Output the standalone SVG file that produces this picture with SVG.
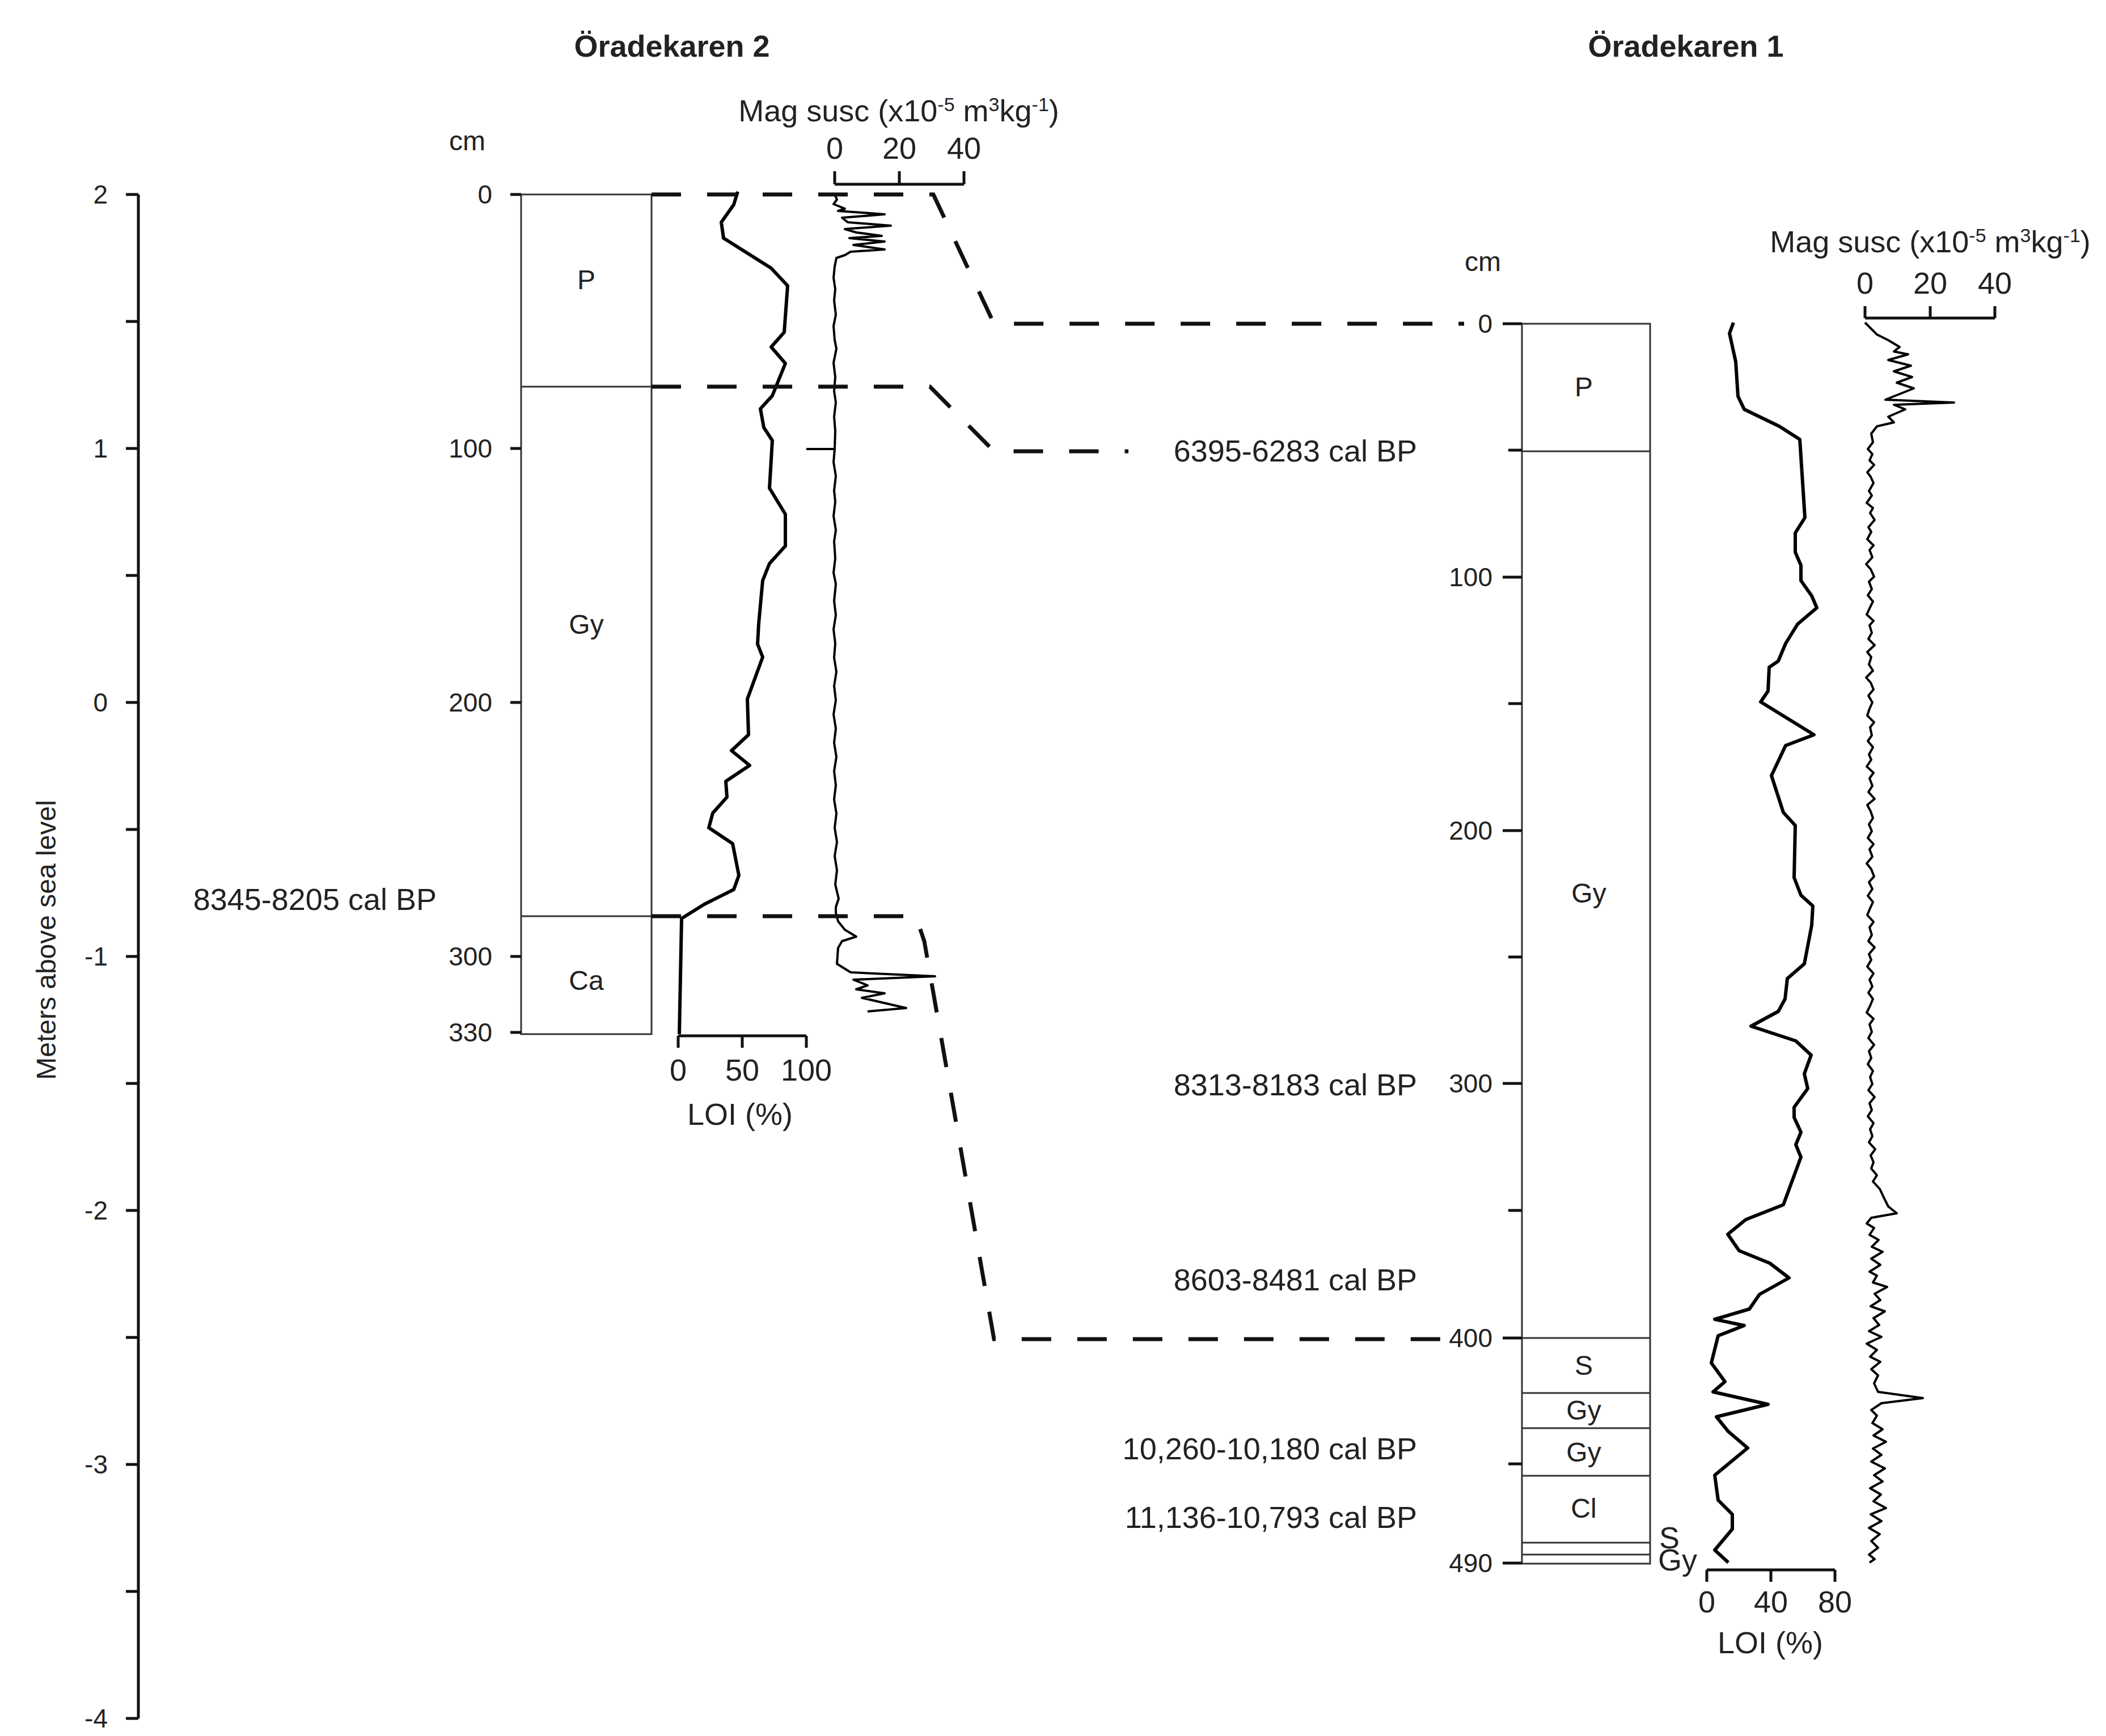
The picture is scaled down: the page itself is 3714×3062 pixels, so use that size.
<svg xmlns="http://www.w3.org/2000/svg" width="3714" height="3062" viewBox="0 0 3714 3062">
<style>
text{font-family:"Liberation Sans",Arial,sans-serif;fill:#222;font-size:54px}
.t{font-weight:bold;font-size:54px;text-anchor:middle}
.r{text-anchor:end}
.m{text-anchor:middle}
.n{font-size:46px}
.c{font-size:48px}
.ax{stroke:#111;stroke-width:5;fill:none}
.box{stroke:#333;stroke-width:3;fill:none}
.cv{stroke:#000;stroke-width:6;fill:none;stroke-linejoin:round}
.mg{stroke:#000;stroke-width:4;fill:none;stroke-linejoin:round}
.dash{stroke:#111;stroke-width:7;fill:none;stroke-dasharray:52 46}
</style>
<rect width="3714" height="3062" fill="#fff"/>
<text class="t" x="1185" y="100">Öradekaren 2</text>
<text class="t" x="2973" y="100">Öradekaren 1</text>

<g id="elevation-axis">
<path class="ax" d="M244,343V3031M222,343H244M222,567H244M222,791H244M222,1015H244M222,1239H244M222,1463H244M222,1687H244M222,1911H244M222,2135H244M222,2359H244M222,2583H244M222,2807H244M222,3031H244"/>
<text class="r n" x="190" y="359">2</text>
<text class="r n" x="190" y="807">1</text>
<text class="r n" x="190" y="1255">0</text>
<text class="r n" x="190" y="1703">-1</text>
<text class="r n" x="190" y="2151">-2</text>
<text class="r n" x="190" y="2599">-3</text>
<text class="r n" x="190" y="3047">-4</text>
<text class="m c" transform="translate(98,1658) rotate(-90)">Meters above sea level</text>
</g>

<g id="core2">
<rect class="box" x="919" y="343" width="230" height="1481"/>
<path class="box" d="M919,682H1149M919,1616H1149"/>
<path class="ax" stroke-width="4" d="M900,343H919M900,791H919M900,1239H919M900,1687H919M900,1821H919"/>
<text x="824" y="265" class="m c">cm</text>
<text class="r n" x="868" y="359">0</text>
<text class="r n" x="868" y="807">100</text>
<text class="r n" x="868" y="1255">200</text>
<text class="r n" x="868" y="1703">300</text>
<text class="r n" x="868" y="1837">330</text>
<text class="m c" x="1034" y="510">P</text>
<text class="m c" x="1034" y="1118">Gy</text>
<text class="m c" x="1034" y="1746">Ca</text>
</g>

<g id="core2-loi">
<polyline class="cv" points="1301,338 1294,361 1272,392 1276,420 1360,473 1389,504 1383,586 1360,612 1385,641 1362,698 1341,721 1347,754 1362,777 1357,861 1385,907 1385,963 1357,994 1345,1024 1338,1100 1336,1136 1345,1159 1318,1233 1320,1296 1290,1324 1322,1350 1280,1378 1282,1406 1257,1434 1250,1460 1292,1488 1303,1544 1294,1569 1242,1595 1202,1620 1198,1824"/>
<path class="ax" d="M1196,1827H1422M1196,1827V1848M1309,1827V1848M1422,1827V1848"/>
<text class="m" x="1196" y="1906">0</text>
<text class="m" x="1309" y="1906">50</text>
<text class="m" x="1422" y="1906">100</text>
<text class="m" x="1305" y="1984">LOI (%)</text>
</g>

<g id="core2-magsusc">
<path class="ax" d="M1472,325H1700M1472,325V302M1586,325V302M1700,325V302"/>
<text class="m" x="1472" y="280">0</text>
<text class="m" x="1586" y="280">20</text>
<text class="m" x="1700" y="280">40</text>
<text class="m" x="1585" y="214">Mag susc (x10<tspan font-size="34" dy="-18">-5</tspan><tspan dy="18"> m</tspan><tspan font-size="34" dy="-18">3</tspan><tspan dy="18">kg</tspan><tspan font-size="34" dy="-18">-1</tspan><tspan dy="18">)</tspan></text>
<polyline class="mg" points="1472,343 1476,352 1470,360 1490,368 1478,372 1560,378 1485,384 1495,392 1571,398 1490,404 1510,410 1555,416 1498,420 1560,426 1505,432 1560,440 1500,444 1490,450 1475,455 1472,470 1470,490 1473,510 1471,530 1474,555 1470,575 1472,600 1475,615 1470,640 1473,665 1471,690 1474,710 1471,735 1473,760 1472,792 1470,815 1474,840 1471,865 1473,885 1470,910 1474,935 1471,955 1473,985 1470,1010 1474,1030 1471,1060 1474,1085 1470,1110 1473,1135 1471,1160 1475,1185 1471,1210 1474,1235 1470,1260 1474,1285 1471,1310 1475,1335 1471,1360 1474,1385 1471,1410 1475,1435 1472,1460 1476,1485 1472,1510 1476,1535 1473,1560 1479,1585 1474,1600 1474,1610 1478,1625 1490,1640 1510,1652 1485,1660 1478,1672 1476,1700 1500,1715 1649,1722 1505,1728 1530,1738 1510,1745 1560,1752 1520,1760 1598,1778 1530,1784"/>
<line class="mg" x1="1422" y1="792" x2="1472" y2="792"/>
</g>

<g id="core1">
<rect class="box" x="2684" y="571" width="226" height="2187"/>
<path class="box" d="M2684,796H2910M2684,2360H2910M2684,2457H2910M2684,2603H2910M2684,2721H2910M2684,2742H2910"/>
<path class="box" stroke-width="5" d="M2684,2519H2910"/>
<path class="ax" stroke-width="4" d="M2650,571H2684M2660,794H2684M2650,1018H2684M2660,1241H2684M2650,1465H2684M2660,1688H2684M2650,1911H2684M2660,2135H2684M2650,2360H2684M2660,2582H2684M2650,2757H2684"/>
<text x="2615" y="478" class="m c">cm</text>
<text class="r n" x="2632" y="587">0</text>
<text class="r n" x="2632" y="1034">100</text>
<text class="r n" x="2632" y="1481">200</text>
<text class="r n" x="2632" y="1927">300</text>
<text class="r n" x="2632" y="2376">400</text>
<text class="r n" x="2632" y="2773">490</text>
<text class="m c" x="2793" y="699">P</text>
<text class="m c" x="2802" y="1592">Gy</text>
<text class="m c" x="2793" y="2425">S</text>
<text class="m c" x="2793" y="2504">Gy</text>
<text class="m c" x="2793" y="2578">Gy</text>
<text class="m c" x="2793" y="2677">Cl</text>
<text x="2926" y="2731" font-size="32">S</text>
<text x="2924" y="2770" font-size="32">Gy</text>
</g>

<g id="core1-loi">
<polyline class="cv" points="3057,569 3050,588 3061,638 3065,699 3076,722 3138,752 3174,775 3180,867 3183,913 3166,940 3166,974 3176,997 3176,1024 3195,1051 3204,1072 3170,1101 3149,1135 3136,1166 3120,1177 3118,1219 3105,1238 3199,1296 3149,1315 3124,1368 3145,1433 3166,1456 3164,1548 3176,1579 3197,1598 3195,1632 3182,1700 3152,1726 3148,1762 3136,1784 3088,1810 3167,1836 3194,1861 3182,1894 3188,1920 3164,1953 3164,1971 3176,1997 3167,2019 3176,2041 3145,2125 3079,2151 3047,2177 3067,2206 3121,2228 3155,2254 3103,2283 3085,2309 3024,2327 3076,2338 3030,2356 3018,2404 3042,2437 3021,2455 3118,2477 3027,2499 3048,2525 3082,2554 3024,2602 3030,2646 3055,2671 3055,2697 3024,2734 3048,2756"/>
<path class="ax" d="M3010,2769H3236M3010,2769V2790M3123,2769V2790M3236,2769V2790"/>
<text class="m" x="3010" y="2844">0</text>
<text class="m" x="3123" y="2844">40</text>
<text class="m" x="3236" y="2844">80</text>
<text class="m" x="3122" y="2916">LOI (%)</text>
</g>

<g id="core1-magsusc">
<path class="ax" d="M3289,561H3518M3289,561V540M3404,561V540M3518,561V540"/>
<text class="m" x="3289" y="518">0</text>
<text class="m" x="3404" y="518">20</text>
<text class="m" x="3518" y="518">40</text>
<text class="m" x="3404" y="445">Mag susc (x10<tspan font-size="34" dy="-18">-5</tspan><tspan dy="18"> m</tspan><tspan font-size="34" dy="-18">3</tspan><tspan dy="18">kg</tspan><tspan font-size="34" dy="-18">-1</tspan><tspan dy="18">)</tspan></text>
<polyline class="mg" points="3289,569 3300,580 3310,590 3330,600 3350,612 3340,620 3365,625 3330,635 3370,645 3340,655 3372,665 3345,675 3375,685 3325,705 3446,710 3340,714 3360,722 3330,735 3340,745 3310,752 3300,765 3303,780 3294,792 3302,801 3297,812 3305,820 3293,833 3299,841 3304,852 3296,866 3301,874 3292,887 3303,896 3298,905 3306,917 3295,930 3300,938 3293,951 3304,962 3297,970 3302,983 3291,995 3299,1004 3305,1017 3296,1026 3301,1039 3294,1050 3303,1061 3298,1071 3292,1084 3304,1095 3297,1103 3301,1116 3295,1127 3306,1138 3293,1150 3300,1159 3296,1172 3303,1183 3291,1195 3299,1204 3304,1216 3295,1227 3302,1239 3297,1250 3293,1262 3305,1274 3298,1283 3301,1297 3294,1307 3303,1318 3296,1331 3300,1340 3292,1352 3304,1363 3297,1373 3302,1386 3295,1397 3306,1409 3293,1420 3299,1431 3303,1443 3296,1454 3301,1466 3294,1478 3304,1489 3297,1498 3302,1511 3292,1523 3300,1533 3305,1546 3296,1556 3302,1568 3294,1580 3303,1591 3298,1602 3293,1614 3304,1626 3297,1636 3301,1649 3295,1660 3306,1671 3296,1683 3300,1693 3293,1705 3304,1717 3297,1728 3302,1740 3295,1751 3303,1762 3298,1774 3292,1786 3304,1797 3297,1807 3301,1820 3295,1831 3305,1843 3296,1854 3300,1866 3294,1877 3303,1889 3298,1900 3302,1912 3295,1923 3306,1935 3297,1946 3301,1958 3294,1969 3304,1981 3298,1992 3302,2004 3296,2015 3307,2027 3299,2038 3304,2050 3300,2061 3310,2073 3303,2084 3315,2097 3322,2112 3330,2128 3345,2140 3300,2148 3292,2158 3305,2166 3297,2178 3313,2187 3301,2199 3320,2208 3300,2220 3316,2231 3297,2243 3310,2250 3303,2262 3328,2270 3306,2282 3316,2293 3299,2304 3324,2313 3304,2325 3314,2337 3296,2348 3318,2358 3292,2370 3310,2381 3298,2393 3316,2402 3300,2415 3312,2426 3305,2440 3312,2455 3391,2466 3318,2475 3300,2487 3310,2497 3302,2510 3320,2521 3304,2532 3326,2543 3303,2555 3318,2566 3300,2578 3324,2590 3305,2602 3320,2613 3298,2625 3317,2636 3304,2648 3326,2660 3299,2671 3318,2683 3296,2695 3315,2706 3300,2718 3312,2730 3296,2742 3306,2750 3297,2756"/>
</g>

<g id="dates">
<text class="r" x="2499" y="814">6395-6283 cal BP</text>
<text class="r" x="770" y="1605">8345-8205 cal BP</text>
<text class="r" x="2499" y="1932">8313-8183 cal BP</text>
<text class="r" x="2499" y="2276">8603-8481 cal BP</text>
<text class="r" x="2499" y="2574">10,260-10,180 cal BP</text>
<text class="r" x="2499" y="2695">11,136-10,793 cal BP</text>
</g>

<g id="connectors">
<path class="dash" d="M1149,343L1646,343L1753,571L2582,571"/>
<path class="dash" d="M1149,682L1640,682L1753,796L1990,796"/>
<path class="dash" d="M1149,1616L1615,1616L1630,1660L1753,2362L2582,2362"/>
</g>
</svg>
